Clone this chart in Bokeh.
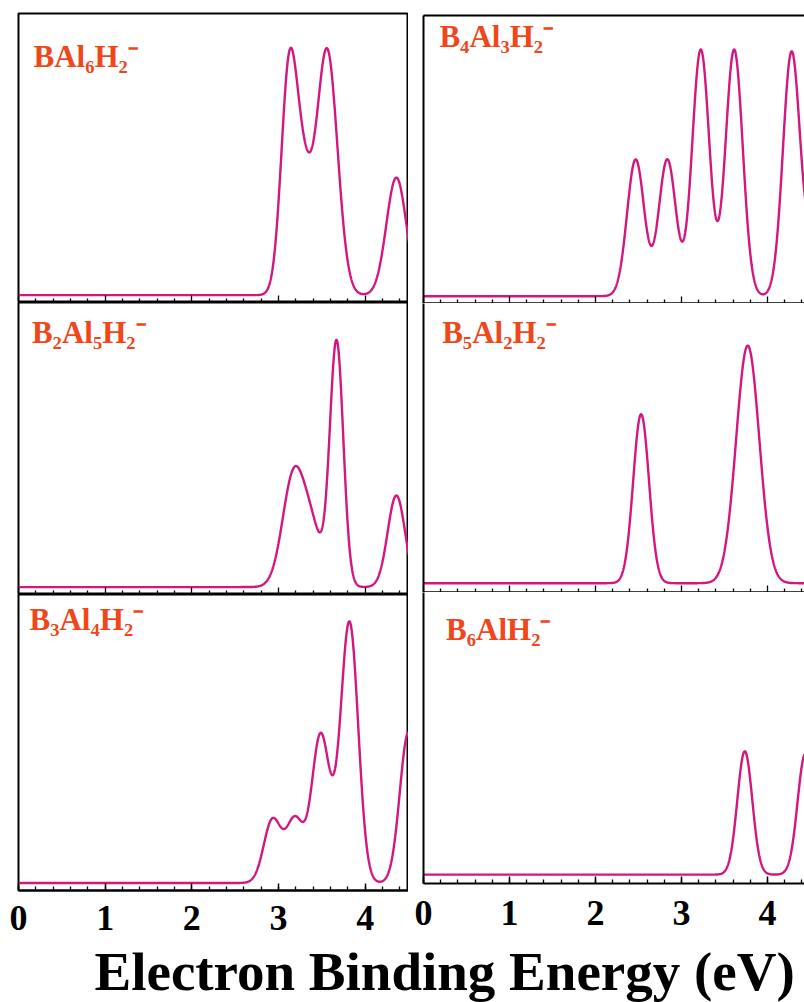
import numpy as np
from bokeh.plotting import figure
from bokeh.models import (Label, LinearAxis, SingleIntervalTicker, FixedTicker, Range1d,
                          ColumnDataSource)
from bokeh.layouts import column, row
from bokeh.embed import file_html
from bokeh.resources import INLINE

# ---------------- data ----------------
panel_labels = ["BAl\u2086H\u2082\u207b", "B\u2082Al\u2085H\u2082\u207b", "B\u2083Al\u2084H\u2082\u207b",
                "B\u2084Al\u2083H\u2082\u207b", "B\u2085Al\u2082H\u2082\u207b", "B\u2086AlH\u2082\u207b"]
tick_values = [0, 1, 2, 3, 4]
minor_tick_values = [0.2, 0.4, 0.6, 0.8, 1.2, 1.4, 1.6, 1.8, 2.2, 2.4, 2.6, 2.8,
                     3.2, 3.4, 3.6, 3.8, 4.2, 4.4]
x_title = "Electron Binding Energy (eV)"

# simulated spectra: transition energies (eV), relative intensities, Gaussian widths (eV)
bal6_e = [3.12, 3.28, 3.56, 4.36]
bal6_i = [0.87, 0.42, 1.00, 0.48]
bal6_w = [0.092, 0.10, 0.12, 0.115]

b2al5_e = [3.18, 3.40, 3.67, 4.36]
b2al5_i = [0.46, 0.18, 0.99, 0.37]
b2al5_w = [0.13, 0.11, 0.078, 0.10]

b3al4_e = [2.93, 3.19, 3.48, 3.62, 3.82, 4.50]
b3al4_i = [0.25, 0.25, 0.56, 0.08, 1.03, 0.60]
b3al4_w = [0.10, 0.10, 0.10, 0.10, 0.10, 0.10]

b4al3_e = [2.467, 2.835, 3.224, 3.612, 4.28, 4.58]
b4al3_i = [0.56, 0.56, 1.01, 1.01, 1.00, 0.30]
b4al3_w = [0.10, 0.10, 0.10, 0.10, 0.10, 0.10]

b5al2_e = [2.53, 3.77]
b5al2_i = [0.69, 0.97]
b5al2_w = [0.092, 0.135]

b6al_e = [3.736, 4.44]
b6al_i = [0.50, 0.49]
b6al_w = [0.087, 0.09]

# label anchor (data coords, vertical centre of the capitals) per panel
label_x = [0.173, 0.155, 0.127, 0.185, 0.217, 0.263]
label_y = [0.973, 1.028, 1.049, 1.066, 1.022, 0.993]

# ---------------- styling ----------------
LINE = "#D4177F"
LABEL_C = "#F0461A"
SERIF = "Liberation Serif"

energy = np.linspace(0, 4.6, 1600)


def spectrum(es, ints, ws):
    y = np.zeros_like(energy)
    for e, a, w in zip(es, ints, ws):
        y += a * np.exp(-(energy - e) ** 2 / (2 * w * w))
    return y


def bare_axis(ticks, minor, tick_len):
    return LinearAxis(ticker=FixedTicker(ticks=ticks, minor_ticks=minor),
                      major_tick_in=0, major_tick_out=0,
                      minor_tick_in=tick_len, minor_tick_out=0,
                      minor_tick_line_width=1.3, minor_tick_line_color="black",
                      axis_line_width=2, axis_line_color="black")


def make_panel(col, k, es, ints, ws, frame_h, top_b, last, first, y0):
    xend = 4.5 if col == 0 else 4.43
    fw = 390 if col == 0 else 381
    bottom_b = 0
    if last:
        bottom_b = 62 if col == 0 else 69
    p = figure(frame_width=fw, frame_height=frame_h,
               x_range=Range1d(0, xend), y_range=Range1d(y0, y0 + 1.18),
               x_axis_type=None, y_axis_type=None,
               toolbar_location=None, output_backend="svg",
               min_border_left=18 if col == 0 else 15, min_border_right=0,
               min_border_top=top_b, min_border_bottom=bottom_b)
    p.background_fill_color = "white"
    p.border_fill_color = "white"
    if col == 0:
        p.outline_line_color = "black"
        p.outline_line_width = 2
    else:
        p.outline_line_color = None
        p.add_layout(bare_axis([], [], 0), "left")
        if first:
            p.add_layout(bare_axis([], [], 0), "above")

    if last:
        xa = LinearAxis(ticker=SingleIntervalTicker(interval=1, num_minor_ticks=5),
                        major_tick_in=7, major_tick_out=0, minor_tick_in=4, minor_tick_out=0,
                        major_tick_line_width=1.5, minor_tick_line_width=1.3,
                        axis_line_width=2, axis_line_color="black")
        xa.major_label_text_font = SERIF
        xa.major_label_text_font_style = "bold"
        xa.major_label_text_font_size = "36px"
        xa.major_label_text_color = "black"
        xa.major_label_standoff = 15 if col == 0 else 17
        xa.major_label_overrides = {v: str(v) for v in tick_values}
        p.add_layout(xa, "below")
    else:
        p.add_layout(bare_axis([], minor_tick_values, 4), "below")
        p.add_layout(bare_axis([], tick_values, 7), "below")

    src = ColumnDataSource(dict(x=energy, y=spectrum(es, ints, ws)))
    p.line("x", "y", source=src, line_color=LINE, line_width=2.4)
    p.add_layout(Label(x=label_x[k], y=label_y[k], text=panel_labels[k],
                       text_font=SERIF, text_font_style="bold", text_font_size="31px",
                       text_color=LABEL_C, text_baseline="middle", text_align="left"))
    return p


L1 = make_panel(0, 0, bal6_e, bal6_i, bal6_w, 289, 13, False, True, -0.03)
L2 = make_panel(0, 1, b2al5_e, b2al5_i, b2al5_w, 292, 0, False, False, -0.03)
L3 = make_panel(0, 2, b3al4_e, b3al4_i, b3al4_w, 296, 0, True, False, -0.03)
R1 = make_panel(1, 3, b4al3_e, b4al3_i, b4al3_w, 288, 15, False, True, -0.03)
R2 = make_panel(1, 4, b5al2_e, b5al2_i, b5al2_w, 289, 0, False, False, -0.038)
R3 = make_panel(1, 5, b6al_e, b6al_i, b6al_w, 291, 0, True, False, -0.036)

tf = figure(width=804, height=50, x_axis_type=None, y_axis_type=None,
            toolbar_location=None, output_backend="svg", min_border=0,
            x_range=Range1d(0, 1), y_range=Range1d(0, 1))
tf.outline_line_color = None
tf.add_layout(Label(x=94, y=31.5, x_units="screen", y_units="screen", text=x_title,
                    text_font=SERIF, text_font_style="bold", text_font_size="55px",
                    text_color="black", text_baseline="middle", text_align="left"))

layout = column(row(column(L1, L2, L3), column(R1, R2, R3)), tf)
open("out.html", "w").write(file_html(layout, INLINE))
